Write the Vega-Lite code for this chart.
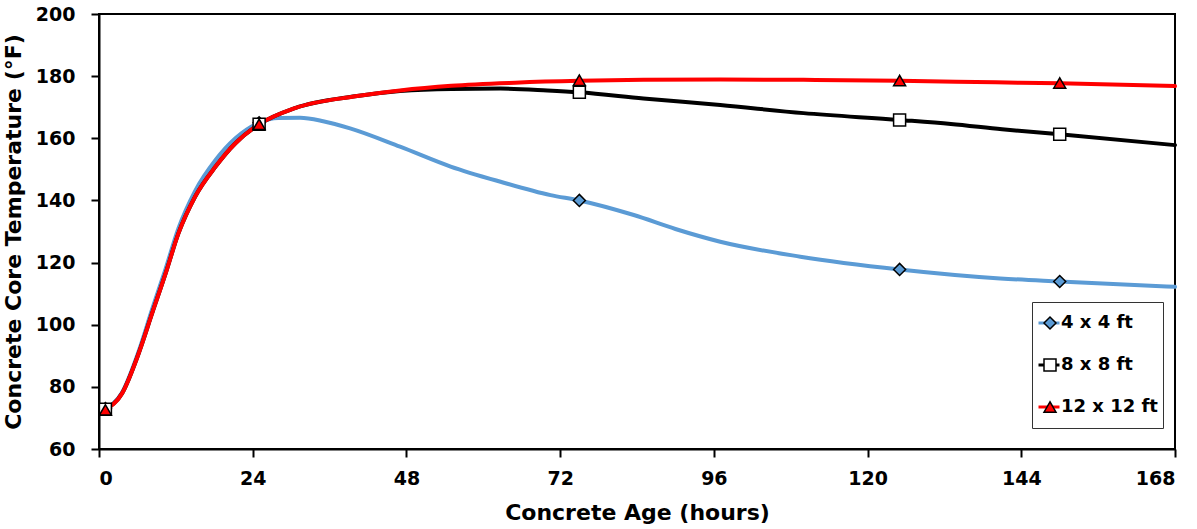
{
  "$schema": "https://vega.github.io/schema/vega-lite/v6.json",
  "width": 1076,
  "height": 435,
  "autosize": {"type": "none"},
  "padding": {"left": 99, "top": 14, "right": 22, "bottom": 80},
  "background": "white",
  "config": {
    "view": {"stroke": "black", "strokeWidth": 2},
    "font": "DejaVu Sans",
    "axis": {
      "grid": false,
      "domainColor": "black",
      "domainWidth": 2,
      "tickColor": "black",
      "tickWidth": 2,
      "tickSize": 8,
      "labelFont": "DejaVu Sans",
      "labelFontWeight": "bold",
      "labelFontSize": 19,
      "labelColor": "black",
      "titleFont": "DejaVu Sans",
      "titleFontWeight": "bold",
      "titleFontSize": 22,
      "titleColor": "black"
    },
    "legend": {
      "labelFont": "DejaVu Sans",
      "labelFontWeight": "bold",
      "labelFontSize": 18,
      "labelColor": "black"
    }
  },
  "datasets": {
    "curves": [
      {"hours": 1, "temp": 73.0, "slab": "4 x 4 ft"},
      {"hours": 3.6, "temp": 78.2, "slab": "4 x 4 ft"},
      {"hours": 6.2, "temp": 91.5, "slab": "4 x 4 ft"},
      {"hours": 8.3, "temp": 105.0, "slab": "4 x 4 ft"},
      {"hours": 10.4, "temp": 118.0, "slab": "4 x 4 ft"},
      {"hours": 12.4, "temp": 131.0, "slab": "4 x 4 ft"},
      {"hours": 15, "temp": 143.0, "slab": "4 x 4 ft"},
      {"hours": 18.2, "temp": 153.0, "slab": "4 x 4 ft"},
      {"hours": 21.3, "temp": 160.0, "slab": "4 x 4 ft"},
      {"hours": 25, "temp": 165.0, "slab": "4 x 4 ft"},
      {"hours": 28, "temp": 166.5, "slab": "4 x 4 ft"},
      {"hours": 31.4, "temp": 166.6, "slab": "4 x 4 ft"},
      {"hours": 35, "temp": 165.5, "slab": "4 x 4 ft"},
      {"hours": 39.2, "temp": 163.2, "slab": "4 x 4 ft"},
      {"hours": 47, "temp": 157.3, "slab": "4 x 4 ft"},
      {"hours": 54.9, "temp": 150.9, "slab": "4 x 4 ft"},
      {"hours": 62.7, "temp": 146.0, "slab": "4 x 4 ft"},
      {"hours": 70.5, "temp": 141.7, "slab": "4 x 4 ft"},
      {"hours": 75, "temp": 140.0, "slab": "4 x 4 ft"},
      {"hours": 83.5, "temp": 135.3, "slab": "4 x 4 ft"},
      {"hours": 90, "temp": 130.8, "slab": "4 x 4 ft"},
      {"hours": 97, "temp": 126.7, "slab": "4 x 4 ft"},
      {"hours": 109.5, "temp": 121.9, "slab": "4 x 4 ft"},
      {"hours": 125, "temp": 117.8, "slab": "4 x 4 ft"},
      {"hours": 140.7, "temp": 114.9, "slab": "4 x 4 ft"},
      {"hours": 150, "temp": 113.9, "slab": "4 x 4 ft"},
      {"hours": 168, "temp": 112.2, "slab": "4 x 4 ft"},

      {"hours": 1, "temp": 72.8, "slab": "8 x 8 ft"},
      {"hours": 3.6, "temp": 77.9, "slab": "8 x 8 ft"},
      {"hours": 6.2, "temp": 90.8, "slab": "8 x 8 ft"},
      {"hours": 8.3, "temp": 103.7, "slab": "8 x 8 ft"},
      {"hours": 10.4, "temp": 116.5, "slab": "8 x 8 ft"},
      {"hours": 12.4, "temp": 129.4, "slab": "8 x 8 ft"},
      {"hours": 15, "temp": 141.2, "slab": "8 x 8 ft"},
      {"hours": 18.2, "temp": 150.9, "slab": "8 x 8 ft"},
      {"hours": 21.3, "temp": 158.4, "slab": "8 x 8 ft"},
      {"hours": 25, "temp": 164.5, "slab": "8 x 8 ft"},
      {"hours": 30.6, "temp": 169.7, "slab": "8 x 8 ft"},
      {"hours": 40, "temp": 173.5, "slab": "8 x 8 ft"},
      {"hours": 47, "temp": 175.2, "slab": "8 x 8 ft"},
      {"hours": 55, "temp": 175.9, "slab": "8 x 8 ft"},
      {"hours": 62.7, "temp": 176.0, "slab": "8 x 8 ft"},
      {"hours": 70, "temp": 175.4, "slab": "8 x 8 ft"},
      {"hours": 75, "temp": 174.8, "slab": "8 x 8 ft"},
      {"hours": 85, "temp": 172.8, "slab": "8 x 8 ft"},
      {"hours": 97, "temp": 170.7, "slab": "8 x 8 ft"},
      {"hours": 110, "temp": 168.1, "slab": "8 x 8 ft"},
      {"hours": 125, "temp": 165.9, "slab": "8 x 8 ft"},
      {"hours": 133, "temp": 164.6, "slab": "8 x 8 ft"},
      {"hours": 141, "temp": 162.9, "slab": "8 x 8 ft"},
      {"hours": 150, "temp": 161.3, "slab": "8 x 8 ft"},
      {"hours": 168, "temp": 157.8, "slab": "8 x 8 ft"},

      {"hours": 1, "temp": 72.6, "slab": "12 x 12 ft"},
      {"hours": 3.6, "temp": 77.9, "slab": "12 x 12 ft"},
      {"hours": 6.2, "temp": 90.8, "slab": "12 x 12 ft"},
      {"hours": 8.3, "temp": 103.7, "slab": "12 x 12 ft"},
      {"hours": 10.4, "temp": 116.5, "slab": "12 x 12 ft"},
      {"hours": 12.4, "temp": 129.4, "slab": "12 x 12 ft"},
      {"hours": 15, "temp": 141.2, "slab": "12 x 12 ft"},
      {"hours": 18.2, "temp": 150.9, "slab": "12 x 12 ft"},
      {"hours": 21.3, "temp": 158.4, "slab": "12 x 12 ft"},
      {"hours": 25, "temp": 164.5, "slab": "12 x 12 ft"},
      {"hours": 30.6, "temp": 169.7, "slab": "12 x 12 ft"},
      {"hours": 40, "temp": 173.5, "slab": "12 x 12 ft"},
      {"hours": 47, "temp": 175.4, "slab": "12 x 12 ft"},
      {"hours": 55, "temp": 176.9, "slab": "12 x 12 ft"},
      {"hours": 65, "temp": 177.9, "slab": "12 x 12 ft"},
      {"hours": 75, "temp": 178.5, "slab": "12 x 12 ft"},
      {"hours": 85, "temp": 178.8, "slab": "12 x 12 ft"},
      {"hours": 97, "temp": 178.9, "slab": "12 x 12 ft"},
      {"hours": 110, "temp": 178.8, "slab": "12 x 12 ft"},
      {"hours": 125, "temp": 178.5, "slab": "12 x 12 ft"},
      {"hours": 140, "temp": 178.0, "slab": "12 x 12 ft"},
      {"hours": 150, "temp": 177.7, "slab": "12 x 12 ft"},
      {"hours": 168, "temp": 176.8, "slab": "12 x 12 ft"}
    ],
    "readings": [
      {"hours": 1, "temp": 73.0, "section": "4x4"},
      {"hours": 25, "temp": 165.0, "section": "4x4"},
      {"hours": 75, "temp": 140.0, "section": "4x4"},
      {"hours": 125, "temp": 117.8, "section": "4x4"},
      {"hours": 150, "temp": 113.9, "section": "4x4"},
      {"hours": 1, "temp": 72.8, "section": "8x8"},
      {"hours": 25, "temp": 164.5, "section": "8x8"},
      {"hours": 75, "temp": 174.8, "section": "8x8"},
      {"hours": 125, "temp": 165.9, "section": "8x8"},
      {"hours": 150, "temp": 161.3, "section": "8x8"},
      {"hours": 1, "temp": 72.6, "section": "12x12"},
      {"hours": 25, "temp": 164.5, "section": "12x12"},
      {"hours": 75, "temp": 178.7, "section": "12x12"},
      {"hours": 125, "temp": 178.6, "section": "12x12"},
      {"hours": 150, "temp": 177.8, "section": "12x12"}
    ]
  },
  "encoding": {
    "x": {
      "field": "hours",
      "type": "quantitative",
      "scale": {"domain": [0, 168], "nice": false, "zero": false},
      "axis": {
        "values": [0, 24, 48, 72, 96, 120, 144, 168],
        "labelPadding": 12,
        "title": "Concrete Age (hours)",
        "titlePadding": 14
      }
    },
    "y": {
      "field": "temp",
      "type": "quantitative",
      "scale": {"domain": [60, 200], "nice": false, "zero": false},
      "axis": {
        "values": [60, 80, 100, 120, 140, 160, 180, 200],
        "labelPadding": 16,
        "title": "Concrete Core Temperature (°F)",
        "titlePadding": 10
      }
    }
  },
  "layer": [
    {
      "data": {"name": "curves"},
      "mark": {"type": "line", "interpolate": "monotone", "strokeWidth": 4, "strokeCap": "round"},
      "encoding": {
        "color": {
          "field": "slab",
          "type": "nominal",
          "scale": {
            "domain": ["4 x 4 ft", "8 x 8 ft", "12 x 12 ft"],
            "range": ["#5B9BD5", "#000000", "#FF0000"]
          },
          "legend": {
            "title": null,
            "orient": "none",
            "legendX": 933,
            "legendY": 288,
            "symbolType": "stroke",
            "symbolSize": 441,
            "symbolStrokeWidth": 3,
            "padding": 5,
            "clipHeight": 32,
            "rowPadding": 10,
            "labelOffset": 0,
            "strokeColor": "#333333",
            "fillColor": "white",
            "zindex": 1
          }
        }
      }
    },
    {
      "data": {"name": "readings"},
      "mark": {"type": "point", "filled": true, "size": 144, "stroke": "black", "strokeWidth": 1.5, "opacity": 1},
      "encoding": {
        "shape": {
          "field": "section",
          "type": "nominal",
          "scale": {
            "domain": ["4x4", "8x8", "12x12"],
            "range": ["diamond", "square", "triangle-up"]
          },
          "legend": {
            "title": null,
            "orient": "none",
            "legendX": 937,
            "legendY": 288,
            "symbolSize": 144,
            "padding": 5,
            "clipHeight": 32,
            "rowPadding": 10,
            "labelExpr": "''",
            "zindex": 2,
            "encode": {
              "symbols": {
                "update": {
                  "stroke": {"value": "black"},
                  "strokeWidth": {"value": 1.5},
                  "size": {"value": 144},
                  "opacity": {"value": 1}
                }
              }
            }
          }
        },
        "fill": {
          "field": "section",
          "type": "nominal",
          "scale": {
            "domain": ["4x4", "8x8", "12x12"],
            "range": ["#5B9BD5", "#FFFFFF", "#FF0000"]
          },
          "legend": {
            "title": null,
            "orient": "none",
            "legendX": 937,
            "legendY": 288,
            "symbolSize": 144,
            "padding": 5,
            "clipHeight": 32,
            "rowPadding": 10,
            "labelExpr": "''",
            "zindex": 2,
            "encode": {
              "symbols": {
                "update": {
                  "stroke": {"value": "black"},
                  "strokeWidth": {"value": 1.5},
                  "size": {"value": 144},
                  "opacity": {"value": 1}
                }
              }
            }
          }
        }
      }
    }
  ]
}
